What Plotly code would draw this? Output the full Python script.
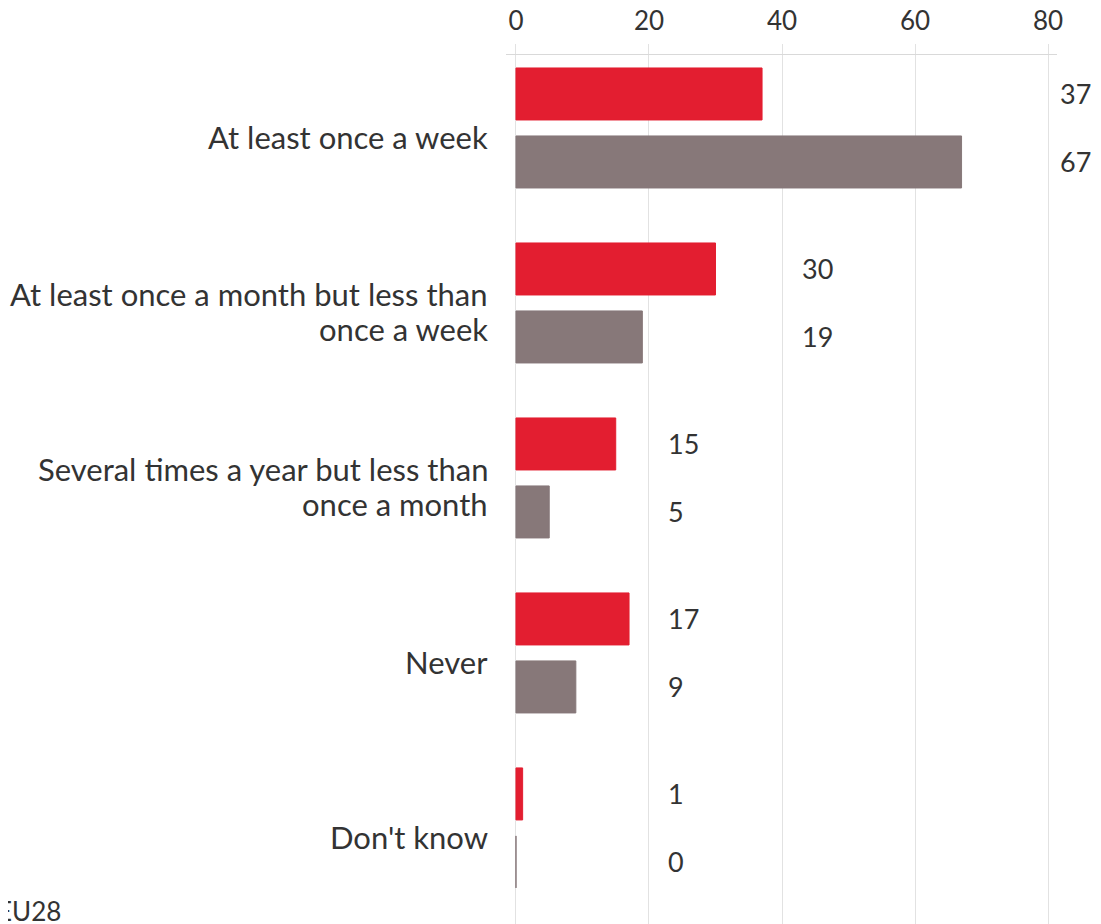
import plotly.graph_objects as go

categories = [
    "At least once a week",
    "At least once a month but less than<br>once a week",
    "Several times a year but less than<br>once a month",
    "Never",
    "Don't know",
]
series_a = [37, 30, 15, 17, 1]   # red
series_b = [67, 19, 5, 9, 0]     # grey
x_ticks = [0, 20, 40, 60, 80]

RED = "#e31e30"
GREY = "#877879"
TXT = "#333333"
FONT = "Lato"
LINE_H = 35

X_RANGE = [-1.5, 81.35]
PLOT_W = 1093 - 498 - 44
PX_PER_UNIT = PLOT_W / (X_RANGE[1] - X_RANGE[0])

fig = go.Figure()
fig.add_trace(go.Bar(y=categories, x=series_a, orientation="h",
                     marker=dict(color=RED, line=dict(color=RED, width=1))))
fig.add_trace(go.Bar(y=categories, x=series_b, orientation="h",
                     marker=dict(color=GREY, line=dict(color=GREY, width=1))))

annotations = []
for i, cat in enumerate(categories):
    gmax = max(series_a[i], series_b[i])
    lx = gmax * 1.05 + 11.2 if gmax >= 20 else 22.6
    ax = min(lx, 80)
    xs = (lx - ax) * PX_PER_UNIT
    for val, shift in ((series_a[i], 34), (series_b[i], -34)):
        annotations.append(dict(x=ax, y=cat, xref="x", yref="y", text=str(val),
                                showarrow=False, xanchor="left", yshift=shift,
                                xshift=xs,
                                font=dict(family=FONT, size=27, color=TXT)))
    lines = cat.split("<br>")
    n = len(lines)
    for j, line in enumerate(lines):
        ys = -9 + ((n - 1) / 2 - j) * LINE_H
        annotations.append(dict(x=0, y=cat, xref="paper", yref="y", text=line,
                                showarrow=False, xanchor="right", align="right",
                                xshift=-16, yshift=ys,
                                font=dict(family=FONT, size=31, color=TXT)))
annotations.append(dict(x=-0.927, y=0, xref="paper", yref="paper", text="EU28",
                        showarrow=False, xanchor="left", yanchor="bottom",
                        yshift=-5, font=dict(family=FONT, size=26, color=TXT)))

fig.update_layout(
    width=1093, height=916,
    margin=dict(l=498, r=44, t=47, b=0),
    paper_bgcolor="white", plot_bgcolor="white",
    barmode="group", bargap=0.223, bargroupgap=0.235,
    showlegend=False,
    annotations=annotations,
    font=dict(family=FONT, color=TXT),
)
fig.update_xaxes(side="top", range=X_RANGE, tickvals=x_ticks,
                 showgrid=True, gridcolor="#e2e2e2", gridwidth=1,
                 showline=True, linecolor="#d9d9d9", linewidth=1,
                 ticks="outside", ticklen=10, tickcolor="#e2e2e2",
                 ticklabelstandoff=4, automargin=False,
                 zeroline=False, tickfont=dict(family=FONT, size=26, color=TXT))
fig.update_yaxes(range=[4.549, -0.417], showticklabels=False, showgrid=False,
                 zeroline=False, automargin=False)

fig.write_html("out.html")
